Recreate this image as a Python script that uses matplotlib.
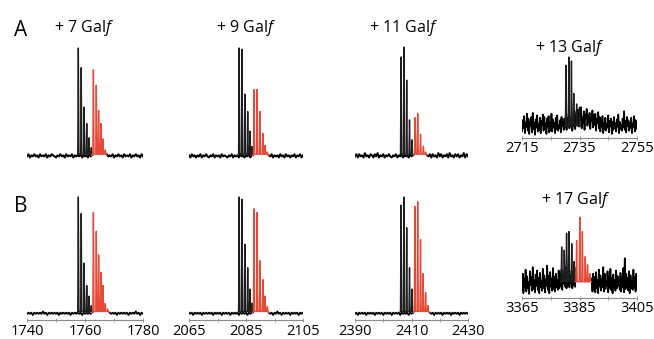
import numpy as np
import matplotlib
matplotlib.use('Agg')
import matplotlib.pyplot as plt

plt.rcParams['font.family'] = 'Open Sans'
plt.rcParams['mathtext.fontset'] = 'custom'
plt.rcParams['mathtext.rm'] = 'Open Sans'
plt.rcParams['mathtext.it'] = 'Open Sans:italic'

W, H = 654, 339
RED = '#e64a36'

# -------------------------- data (m/z, relative intensity) --------------------------
titles = ['+ 7 Gal$f$', '+ 9 Gal$f$', '+ 11 Gal$f$', '+ 13 Gal$f$', '+ 17 Gal$f$']

ranges_a = [(1740, 1780), (2065, 2105), (2390, 2430), (2715, 2755)]
ranges_b = [(1740, 1780), (2065, 2105), (2390, 2430), (3365, 3405)]

# row A
a1_black_mz = [1757.7, 1758.7, 1759.7, 1760.6, 1761.4, 1762.2]
a1_black_int = [1.0, 0.82, 0.46, 0.31, 0.18, 0.09]
a1_red_mz = [1762.9, 1763.9, 1764.7, 1765.5, 1766.2, 1767.0]
a1_red_int = [0.80, 0.66, 0.43, 0.31, 0.17, 0.07]

a2_black_mz = [2082.6, 2083.6, 2084.6, 2085.6, 2086.4, 2087.1]
a2_black_int = [1.0, 0.99, 0.58, 0.42, 0.24, 0.10]
a2_red_mz = [2087.8, 2088.9, 2089.9, 2090.9, 2091.7, 2092.5]
a2_red_int = [0.62, 0.62, 0.42, 0.22, 0.11, 0.05]

a3_black_mz = [2406.3, 2407.3, 2408.3, 2409.3, 2410.2]
a3_black_int = [0.91, 1.0, 0.70, 0.34, 0.16]
a3_red_mz = [2411.3, 2412.2, 2413.2, 2414.2, 2415.0]
a3_red_int = [0.36, 0.40, 0.21, 0.10, 0.05]

a4_black_mz = [2730.3, 2731.3, 2732.2, 2733.0, 2734.0, 2735.0]
a4_black_int = [0.90, 1.0, 0.95, 0.55, 0.42, 0.38]

# row B
b1_black_mz = [1757.7, 1758.7, 1759.7, 1760.6, 1761.4, 1762.2]
b1_black_int = [1.0, 0.86, 0.44, 0.25, 0.16, 0.08]
b1_red_mz = [1762.9, 1763.9, 1764.7, 1765.5, 1766.2, 1767.0, 1767.8]
b1_red_int = [0.87, 0.71, 0.51, 0.36, 0.25, 0.10, 0.05]

b2_black_mz = [2082.6, 2083.6, 2084.6, 2085.6, 2086.4, 2087.1]
b2_black_int = [1.0, 0.98, 0.60, 0.40, 0.22, 0.10]
b2_red_mz = [2087.8, 2088.9, 2089.9, 2090.9, 2091.7, 2092.5]
b2_red_int = [0.90, 0.87, 0.46, 0.30, 0.16, 0.07]

b3_black_mz = [2406.3, 2407.3, 2408.3, 2409.3, 2410.2]
b3_black_int = [0.93, 1.0, 0.74, 0.40, 0.22]
b3_red_mz = [2411.2, 2412.2, 2413.2, 2414.1, 2415.0, 2415.8]
b3_red_int = [0.92, 0.96, 0.64, 0.35, 0.19, 0.08]

b4_black_mz = [3378.8, 3379.7, 3380.5, 3381.3, 3382.3, 3383.1]
b4_black_int = [0.63, 0.59, 0.80, 0.82, 0.67, 0.45]
b4_red_mz = [3384.0, 3385.1, 3386.0, 3387.0, 3387.8, 3388.6]
b4_red_int = [0.71, 1.0, 0.82, 0.51, 0.41, 0.30]

# baseline noise, percent of max, every 0.5 m/z
a1_noise = [1, 3, 0, 2, 1, 3, 1, 2, 0, 3, 1, 2, 1, 3, 0, 2, 1, 3, 2, 1, 0, 2, 1, 3, 1, 2, 0,
            3, 1, 2, 1, 3, 0, 2, 1, 2, 1, 3, 0, 2, 1, 2, 0, 3, 1, 2, 1, 3, 0, 2, 1, 3, 1, 2,
            0, 3, 1, 2, 1, 3, 0, 2, 1, 3, 1, 2, 0, 3, 1, 2, 1, 3, 0, 2, 1, 3, 1, 2, 0, 3, 1]
a2_noise = [2, 0, 3, 1, 2, 0, 2, 1, 3, 0, 2, 1, 3, 1, 0, 2, 1, 3, 0, 2, 1, 2, 0, 3, 1, 2, 1,
            0, 2, 1, 3, 0, 2, 1, 2, 0, 3, 1, 2, 0, 2, 1, 3, 0, 2, 1, 2, 0, 3, 1, 2, 0, 2, 1,
            3, 0, 2, 1, 3, 0, 2, 1, 2, 0, 3, 1, 2, 0, 3, 1, 2, 0, 2, 1, 3, 0, 2, 1, 3, 0, 2]
a3_noise = [1, 3, 0, 3, 1, 2, 0, 4, 1, 2, 0, 3, 2, 0, 3, 1, 4, 0, 2, 1, 3, 0, 2, 1, 3, 1, 0,
            2, 1, 3, 0, 2, 1, 3, 0, 2, 1, 2, 0, 3, 1, 2, 0, 3, 1, 2, 0, 3, 1, 4, 0, 2, 1, 3,
            0, 3, 1, 2, 0, 4, 1, 3, 0, 2, 1, 3, 0, 4, 1, 2, 0, 3, 1, 3, 0, 2, 1, 4, 0, 3, 1]
b1_noise = [1, 2, 1, 2, 0, 2, 1, 2, 1, 2, 1, 3, 1, 2, 0, 2, 1, 2, 1, 2, 1, 2, 0, 2, 1, 2, 1,
            2, 1, 2, 0, 2, 1, 2, 1, 2, 1, 2, 0, 2, 1, 2, 1, 2, 1, 2, 0, 2, 1, 2, 1, 2, 1, 2,
            0, 2, 1, 2, 1, 2, 1, 2, 0, 2, 1, 2, 1, 2, 1, 2, 0, 2, 1, 2, 1, 3, 1, 2, 0, 2, 1]
b2_noise = [2, 1, 2, 0, 2, 1, 2, 1, 2, 0, 2, 1, 2, 1, 2, 1, 2, 0, 2, 1, 2, 1, 2, 0, 2, 1, 2,
            1, 2, 0, 2, 1, 2, 1, 2, 0, 2, 1, 2, 1, 2, 0, 2, 1, 2, 1, 2, 0, 2, 1, 2, 1, 2, 0,
            2, 1, 2, 1, 2, 0, 2, 1, 3, 1, 2, 0, 2, 1, 2, 1, 2, 0, 2, 1, 2, 1, 2, 0, 2, 1, 2]
b3_noise = [1, 2, 0, 2, 1, 2, 1, 2, 0, 2, 1, 2, 1, 2, 0, 2, 1, 2, 1, 2, 0, 2, 1, 2, 1, 2, 0,
            2, 1, 2, 1, 2, 0, 2, 1, 2, 1, 2, 0, 2, 1, 2, 1, 2, 0, 2, 1, 2, 1, 2, 0, 2, 1, 2,
            1, 2, 0, 2, 1, 2, 1, 2, 0, 2, 1, 2, 1, 2, 0, 2, 1, 2, 1, 2, 0, 2, 1, 2, 1, 2, 1]
# noisy panels, every 0.25 m/z
a4_noise = [8, 22, 12, 27, 6, 18, 14, 30, 9, 24, 5, 20, 15, 26, 7, 31, 11, 19, 4, 23, 13, 28,
            8, 17, 10, 25, 6, 21, 16, 29, 9, 26, 12, 18, 5, 24, 14, 27, 7, 20, 10, 30, 8, 23,
            13, 19, 6, 25, 11, 28, 9, 16, 12, 22, 7, 26, 15, 20, 10, 24,
            14, 28, 10, 25, 16, 30, 12, 22, 18, 27, 9, 24, 15, 33, 11, 29, 17,
            20, 35, 14, 30, 22, 38, 12, 26, 18, 33, 10, 29, 24, 36, 15, 27, 19, 31, 11, 25,
            21, 34, 13, 28, 16, 30, 9, 24, 18, 32, 12, 26,
            8, 22, 14, 27, 6, 19, 11, 25, 9, 17, 13, 28, 7, 21, 15, 24, 5, 20, 10, 26, 12, 18,
            8, 23, 14, 29, 6, 20, 11, 16, 9, 24, 13, 33, 10, 21, 7, 26, 15, 22, 9, 19, 12, 25,
            6, 18, 14, 27, 8, 22, 11, 20]
b4_noise = [10, 30, 6, 24, 14, 35, 8, 27, 12, 20, 5, 33, 16, 26, 9, 38, 11, 22, 7, 29, 15, 34,
            10, 25, 6, 31, 13, 21, 9, 36, 12, 28, 7, 23, 15, 40, 10, 27, 6, 32, 14, 24, 9, 37,
            11, 26, 8, 30, 13, 22, 10, 34,
            12, 30, 15, 35, 10, 28, 18, 33, 14, 38, 12, 30, 16, 36, 13, 27, 18, 34, 12, 29,
            16, 38, 14, 31, 20, 36, 15, 30, 18, 34, 14, 28, 16, 32, 12, 27, 15, 35, 11, 26,
            14, 31, 10, 28, 12, 24, 8, 30,
            10, 26, 7, 32, 12, 22, 6, 35, 14, 28, 9, 24, 13, 38, 8, 30, 11, 21, 15, 33, 7, 27,
            12, 36, 10, 25, 6, 29, 14, 22, 9, 34, 12, 27, 15, 22, 10, 31, 8, 26, 13, 37, 7, 49,
            11, 30, 14, 25, 9, 33, 6, 28, 12, 21, 10, 35, 13, 26, 8, 30, 11]

# -------------------------- helpers --------------------------
fig = plt.figure(figsize=(W / 100, H / 100), dpi=100)


def make_ax(x0, x1, base, top, ylo, yhi):
    # pixel placement: base = y pixel of intensity 0, top = y pixel of intensity 1
    ppu = base - top
    bot = base - ylo * ppu
    tp = base - yhi * ppu
    ax = fig.add_axes([x0 / W, 1 - bot / H, (x1 - x0) / W, (bot - tp) / H])
    ax.set_ylim(ylo, yhi)
    return ax


def cluster(ax, mz, inten, color, valley, base, lw=1.0):
    xs, ys = [mz[0] - 0.5], [base]
    for p, h in zip(mz, inten):
        xs += [p - 0.2, p, p + 0.2]
        ys += [valley, h, valley]
    xs.append(mz[-1] + 0.5)
    ys.append(base)
    ax.plot(xs, ys, color=color, lw=lw)


def spectrum(ax, xr, noise, bmz, bint, rmz=None, rint=None, valley=0.03, base=0.02, nlw=1.4):
    x = np.linspace(xr[0], xr[1], len(noise))
    y = np.array(noise, dtype=float) / 100
    if rmz is not None:
        y[(x > rmz[0] - 0.5) & (x < rmz[-1] + 0.5)] = np.nan
    ax.plot(x, y, color='black', lw=nlw)
    cluster(ax, bmz, bint, '#1e1e1e', valley, base)
    if rmz is not None:
        cluster(ax, rmz, rint, RED, valley, base)
    ax.set_xlim(*xr)


def style_axis(ax, xr):
    for s in ['top', 'left', 'right']:
        ax.spines[s].set_visible(False)
    ax.spines['bottom'].set_color('#8a8a8a')
    ax.spines['bottom'].set_linewidth(0.8)
    ax.set_yticks([])
    ax.set_xticks([xr[0], xr[0] + 20, xr[1]])
    ax.set_xticks([xr[0] + 10, xr[0] + 30], minor=True)
    ax.tick_params(axis='x', which='both', direction='inout', length=3, width=0.6,
                   color='#8a8a8a', labelsize=10.5, pad=1)
    ax.patch.set_alpha(0)


# -------------------------- row A --------------------------
xpix = [(27, 143), (189, 303), (355, 468), (522, 637)]

ax = make_ax(*xpix[0], 157.5, 48, -0.06, 1.05)
spectrum(ax, ranges_a[0], a1_noise, a1_black_mz, a1_black_int, a1_red_mz, a1_red_int)
ax.axis('off')
ax = make_ax(*xpix[1], 157.5, 48, -0.06, 1.05)
spectrum(ax, ranges_a[1], a2_noise, a2_black_mz, a2_black_int, a2_red_mz, a2_red_int)
ax.axis('off')
ax = make_ax(*xpix[2], 157.5, 47, -0.06, 1.05)
spectrum(ax, ranges_a[2], a3_noise, a3_black_mz, a3_black_int, a3_red_mz, a3_red_int)
ax.axis('off')
ax = make_ax(*xpix[3], 138, 57, 0, 1.05)
spectrum(ax, ranges_a[3], a4_noise, a4_black_mz, a4_black_int, valley=0.15, base=0.15, nlw=1.25)
style_axis(ax, ranges_a[3])

# -------------------------- row B --------------------------
for i, (nz, bm, bi, rm, ri) in enumerate([
        (b1_noise, b1_black_mz, b1_black_int, b1_red_mz, b1_red_int),
        (b2_noise, b2_black_mz, b2_black_int, b2_red_mz, b2_red_int),
        (b3_noise, b3_black_mz, b3_black_int, b3_red_mz, b3_red_int)]):
    ax = make_ax(*xpix[i], 315, 197, -0.045, 1.05)
    spectrum(ax, ranges_b[i], nz, bm, bi, rm, ri, nlw=1.3)
    style_axis(ax, ranges_b[i])

ax = make_ax(*xpix[3], 298, 217, 0, 1.05)
spectrum(ax, ranges_b[3], b4_noise, b4_black_mz, b4_black_int, b4_red_mz, b4_red_int,
         valley=0.2, base=0.2, nlw=1.25)
style_axis(ax, ranges_b[3])

# -------------------------- labels --------------------------
def ftext(x, y, s, size):
    fig.text(x / W, 1 - y / H, s, ha='center', va='center', fontsize=size)


ftext(21, 30, 'A', 15)
ftext(21, 206, 'B', 15)
ftext(84, 28, titles[0], 11.5)
ftext(246, 28, titles[1], 11.5)
ftext(404, 28, titles[2], 11.5)
ftext(570, 48, titles[3], 11.5)
ftext(576, 200, titles[4], 11.5)

fig.savefig('out.png', dpi=100)
